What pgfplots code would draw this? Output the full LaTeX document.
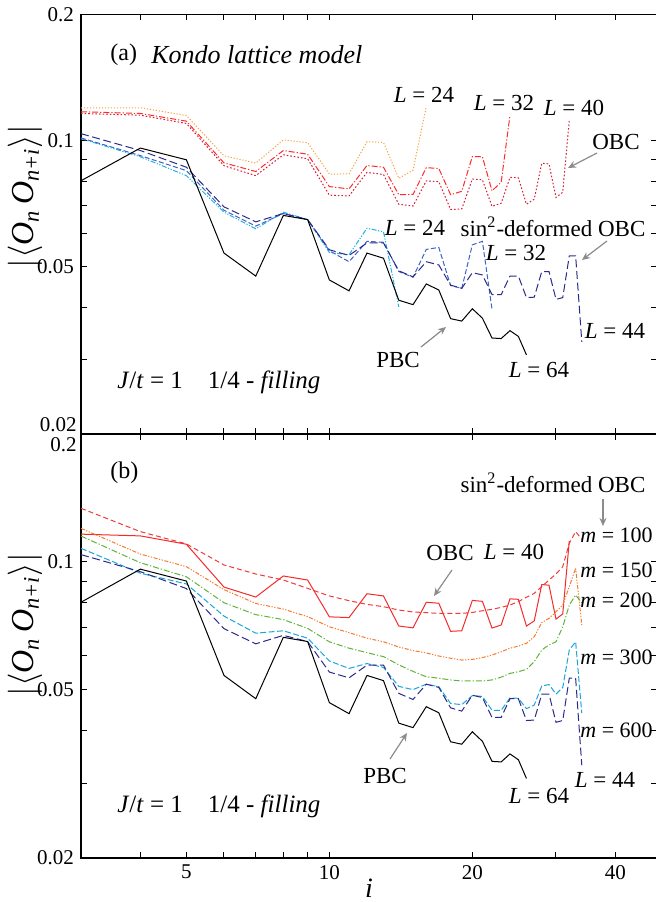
\documentclass[border=0pt]{standalone}
\usepackage{fontspec}
\setmainfont{Liberation Serif}
\usepackage{pgfplots}
\pgfplotsset{compat=1.18}
\usepackage{pgfplotstable}
\usetikzlibrary{arrows.meta}

\definecolor{cOrange}{HTML}{F6A23C}
\definecolor{cRedA}{HTML}{FF2A2A}
\definecolor{cCrimson}{HTML}{D81B36}
\definecolor{cCyanA}{HTML}{1EB4E6}
\definecolor{cBlue}{HTML}{3F63C4}
\definecolor{cNavy}{HTML}{2B2B8C}
\definecolor{cRedB}{HTML}{F22B2B}
\definecolor{cRedDash}{HTML}{F23A3A}
\definecolor{cOrangeB}{HTML}{F47A2E}
\definecolor{cGreen}{HTML}{62B33A}
\definecolor{cCyanB}{HTML}{1AA6DA}
\definecolor{cArrow}{HTML}{8C8C8C}

% PBC, L = 64 (same in both panels)
\pgfplotstableread{
i v
3 0.0802
4 0.0960
5 0.0900
6 0.0539
7 0.0475
8 0.0663
9 0.0648
10 0.0465
11 0.0438
12 0.0539
13 0.0524
14 0.0416
15 0.0406
16 0.0455
17 0.0440
18 0.0376
19 0.0371
20 0.0397
21 0.0377
22 0.0338
23 0.0337
24 0.0352
25 0.0341
26 0.0308
}\pbc

% OBC
\pgfplotstableread{
i v
3 0.1198
4 0.1198
5 0.1148
6 0.0920
7 0.0884
8 0.1004
9 0.0989
10 0.0832
11 0.0833
12 0.0994
13 0.0990
14 0.0813
15 0.0850
16 0.1205
}\obcA

\pgfplotstableread{
i v
3 0.1172
4 0.1161
5 0.1113
6 0.0885
7 0.0844
8 0.0947
9 0.0928
10 0.0777
11 0.0767
12 0.0872
13 0.0864
14 0.0743
15 0.0744
16 0.0862
17 0.0858
18 0.0743
19 0.0757
20 0.0916
21 0.0915
22 0.0759
23 0.0796
24 0.1148
}\obcB

\pgfplotstableread{
i v
3 0.1161
4 0.1150
5 0.1099
6 0.0871
7 0.0825
8 0.0925
9 0.0905
10 0.0741
11 0.0738
12 0.0840
13 0.0830
14 0.0705
15 0.0698
16 0.0802
17 0.0798
18 0.0685
19 0.0687
20 0.0810
21 0.0806
22 0.0697
23 0.0709
24 0.0817
25 0.0815
26 0.0705
27 0.0725
28 0.0883
29 0.0880
30 0.0732
31 0.0753
32 0.1119
}\obcC

% sin^2-deformed OBC
\pgfplotstableread{
i v
3 0.1011
4 0.0915
5 0.0825
6 0.0675
7 0.0616
8 0.0675
9 0.0648
10 0.0541
11 0.0534
12 0.0618
13 0.0606
14 0.0401
}\sinA

\pgfplotstableread{
i v
3 0.1015
4 0.0921
5 0.0848
6 0.0682
7 0.0625
8 0.0670
9 0.0648
10 0.0546
11 0.0514
12 0.0575
13 0.0572
14 0.0487
15 0.0472
16 0.0550
17 0.0556
18 0.0451
19 0.0444
20 0.0564
21 0.0575
22 0.0396
}\sinB

\pgfplotstableread{
i v
3 0.1039
4 0.0947
5 0.0864
6 0.0695
7 0.0640
8 0.0670
9 0.0648
10 0.0549
11 0.0532
12 0.0570
13 0.0570
14 0.0489
15 0.0473
16 0.0514
17 0.0505
18 0.0452
19 0.0444
20 0.0484
21 0.0478
22 0.0429
23 0.0429
24 0.0475
25 0.0475
26 0.0422
27 0.0423
28 0.0487
29 0.0487
30 0.0418
31 0.0422
32 0.0531
33 0.0531
34 0.0331
}\sinC

% L = 44, sin^2, kept states m
\pgfplotstableread{
i v
3 0.1336
4 0.1177
5 0.1101
6 0.0982
7 0.0935
8 0.0905
9 0.0865
10 0.0830
11 0.0809
12 0.0793
13 0.0783
14 0.0769
15 0.0761
16 0.0758
17 0.0755
18 0.0755
19 0.0755
20 0.0759
21 0.0766
22 0.0772
23 0.0780
24 0.0790
25 0.0805
26 0.0824
27 0.0842
28 0.0873
29 0.0905
30 0.0935
31 0.0973
32 0.1105
33 0.1177
34 0.1129
}\mA

\pgfplotstableread{
i v
3 0.1198
4 0.1042
5 0.0973
6 0.0859
7 0.0797
8 0.0773
9 0.0742
10 0.0702
11 0.0680
12 0.0660
13 0.0647
14 0.0629
15 0.0617
16 0.0609
17 0.0599
18 0.0592
19 0.0586
20 0.0588
21 0.0594
22 0.0602
23 0.0613
24 0.0625
25 0.0632
26 0.0642
27 0.0665
28 0.0718
29 0.0735
30 0.0762
31 0.0790
32 0.0873
33 0.0965
34 0.0709
}\mB

\pgfplotstableread{
i v
3 0.1149
4 0.0994
5 0.0921
6 0.0800
7 0.0750
8 0.0730
9 0.0696
10 0.0647
11 0.0625
12 0.0610
13 0.0597
14 0.0571
15 0.0551
16 0.0535
17 0.0531
18 0.0526
19 0.0523
20 0.0523
21 0.0523
22 0.0526
23 0.0534
24 0.0545
25 0.0550
26 0.0557
27 0.0581
28 0.0619
29 0.0636
30 0.0647
31 0.0702
32 0.0790
33 0.0834
34 0.0800
}\mC

\pgfplotstableread{
i v
3 0.1075
4 0.0939
5 0.0886
6 0.0744
7 0.0678
8 0.0687
9 0.0660
10 0.0583
11 0.0560
12 0.0575
13 0.0563
14 0.0508
15 0.0499
16 0.0514
17 0.0507
18 0.0463
19 0.0460
20 0.0483
21 0.0481
22 0.0446
23 0.0446
24 0.0477
25 0.0476
26 0.0450
27 0.0459
28 0.0509
29 0.0513
30 0.0487
31 0.0505
32 0.0619
33 0.0647
34 0.0439
}\mD

\tikzset{
  ann/.style={font=\fontsize{11.5}{13}\selectfont, inner sep=0pt},
  mlab/.style={font=\fontsize{11}{13}\selectfont, inner sep=0pt, anchor=west},
  tlab/.style={font=\fontsize{10.5}{12}\selectfont, inner sep=0pt, anchor=east},
  arr/.style={cArrow, line width=0.6pt, -{Stealth[length=4pt,width=3.5pt]}},
}
\newcommand\ylab{$\bigl|\bigl\langle$\textit{O\textsubscript{n}\,O\textsubscript{n+i}}$\bigr\rangle\bigr|$}

\begin{document}
\begin{tikzpicture}
\begin{scope}
\clip (0,0) rectangle (328pt,451pt);

% panel (a)
\begin{axis}[
  at={(40.5pt,234.25pt)}, anchor=south west,
  scale only axis, width=288.1pt, height=209.5pt,
  xmode=log, ymode=log,
  xmin=3, xmax=49, ymin=0.02, ymax=0.2,
  xtick={5,10,20,40}, xticklabels={},
  minor xtick={4,6,7,8,9,30},
  ytick={0.02,0.05,0.1,0.2}, yticklabels={,0.05,0.1,0.2},
  minor ytick={0.03,0.04,0.06,0.07,0.08,0.09},
  tick align=inside,
  major tick length=3pt, minor tick length=3pt,
  axis line style={line width=0.6pt},
  tick style={black, line width=0.5pt},
  tick label style={font=\fontsize{10.5}{12}\selectfont},
  ylabel={\ylab},
  ylabel style={font=\fontsize{16}{18}\selectfont, at={(axis description cs:-0.097,0.565)}, anchor=center},
]
\addplot[cOrange, line width=0.5pt, dash pattern=on 0.6pt off 0.9pt] table[x=i,y=v] {\obcA};
\addplot[cRedA, line width=0.5pt, dash pattern=on 3pt off 1pt on 0.6pt off 1pt] table[x=i,y=v] {\obcB};
\addplot[cCrimson, line width=0.5pt, dash pattern=on 0.8pt off 1pt] table[x=i,y=v] {\obcC};
\addplot[cCyanA, line width=0.5pt, dash pattern=on 2.5pt off 0.8pt on 0.6pt off 0.8pt on 0.6pt off 0.8pt] table[x=i,y=v] {\sinA};
\addplot[cBlue, line width=0.5pt, dash pattern=on 2.5pt off 1.2pt] table[x=i,y=v] {\sinB};
\addplot[cNavy, line width=0.5pt, dash pattern=on 4pt off 1.8pt] table[x=i,y=v] {\sinC};
\addplot[black, line width=0.5pt] table[x=i,y=v] {\pbc};
\end{axis}

% panel (b)
\begin{axis}[
  at={(40.5pt,22pt)}, anchor=south west,
  scale only axis, width=288.1pt, height=212pt,
  xmode=log, ymode=log,
  xmin=3, xmax=49, ymin=0.02, ymax=0.2,
  xtick={5,10,20,40}, xticklabels={5,10,20,40},
  minor xtick={4,6,7,8,9,30},
  ytick={0.02,0.05,0.1,0.2}, yticklabels={0.02,0.05,0.1,},
  minor ytick={0.03,0.04,0.06,0.07,0.08,0.09},
  tick align=inside,
  major tick length=3pt, minor tick length=3pt,
  axis line style={line width=0.6pt},
  tick style={black, line width=0.5pt},
  tick label style={font=\fontsize{10.5}{12}\selectfont},
  ylabel={\ylab},
  ylabel style={font=\fontsize{16}{18}\selectfont, at={(axis description cs:-0.097,0.55)}, anchor=center},
  xlabel={\textit{i}},
  xlabel style={font=\fontsize{14}{16}\selectfont, yshift=7pt},
]
\addplot[cRedDash, line width=0.5pt, dash pattern=on 2.5pt off 1.5pt] table[x=i,y=v] {\mA};
\addplot[cRedB, line width=0.5pt] table[x=i,y=v] {\obcC};
\addplot[cOrangeB, line width=0.5pt, dash pattern=on 2pt off 0.8pt on 0.6pt off 0.8pt on 0.6pt off 0.8pt] table[x=i,y=v] {\mB};
\addplot[cGreen, line width=0.5pt, dash pattern=on 3pt off 1pt on 0.6pt off 1pt] table[x=i,y=v] {\mC};
\addplot[cCyanB, line width=0.5pt, dash pattern=on 3pt off 1.2pt] table[x=i,y=v] {\mD};
\addplot[cNavy, line width=0.5pt, dash pattern=on 4pt off 1.8pt] table[x=i,y=v] {\sinC};
\addplot[black, line width=0.5pt] table[x=i,y=v] {\pbc};
\end{axis}

% annotations, placed in reference pixel units
\begin{scope}[x=0.5pt, y=-0.5pt, yshift=451pt]
  % tick labels at the joint of the panels
  \node[tlab] at (77,425) {0.02};
  \node[tlab] at (77,445) {0.2};
  % panel (a)
  \node[anchor=west, inner sep=0pt, font=\fontsize{12}{14}\selectfont] at (110,55) {(a)};
  \node[anchor=west, inner sep=0pt, font=\fontsize{13}{15}\selectfont] at (151,55) {\textit{Kondo lattice model}};
  \node[ann] at (424,95) {\textit{L} = 24};
  \node[ann] at (504,103) {\textit{L} = 32};
  \node[ann] at (574,108) {\textit{L} = 40};
  \node[ann] at (616,142) {OBC};
  \draw[arr] (597,153) -- (568,168);
  \node[ann] at (415,228) {\textit{L} = 24};
  \node[ann] at (553,227) {sin\textsuperscript{2}-deformed OBC};
  \node[ann] at (516,253) {\textit{L} = 32};
  \draw[arr] (607,241) -- (582,260);
  \node[ann] at (615,331) {\textit{L} = 44};
  \node[ann] at (398,360) {PBC};
  \draw[arr] (421,347) -- (446,327);
  \node[ann] at (539,370) {\textit{L} = 64};
  \node[anchor=west, inner sep=0pt, font=\fontsize{12.5}{14}\selectfont] at (117,382)
    {\textit{J}/\textit{t} = 1\hspace{1em}1/4 - \textit{filling}};
  % panel (b)
  \node[anchor=west, inner sep=0pt, font=\fontsize{12}{14}\selectfont] at (110,473) {(b)};
  \node[ann] at (553,483) {sin\textsuperscript{2}-deformed OBC};
  \draw[arr] (603,499) -- (603,526);
  \node[mlab] at (580,535) {\textit{m} = 100};
  \node[mlab] at (580,570) {\textit{m} = 150};
  \node[mlab] at (580,600) {\textit{m} = 200};
  \node[mlab] at (580,657) {\textit{m} = 300};
  \node[mlab] at (580,730) {\textit{m} = 600};
  \node[ann] at (450,553) {OBC};
  \node[ann] at (514,552) {\textit{L} = 40};
  \draw[arr] (452,570) -- (434,596);
  \node[ann] at (385,776) {PBC};
  \draw[arr] (390,759) -- (407,733);
  \node[ann] at (605,780) {\textit{L} = 44};
  \node[ann] at (539,796) {\textit{L} = 64};
  \node[anchor=west, inner sep=0pt, font=\fontsize{12.5}{14}\selectfont] at (117,806)
    {\textit{J}/\textit{t} = 1\hspace{1em}1/4 - \textit{filling}};
\end{scope}
\end{scope}
\pgfresetboundingbox
\useasboundingbox (0,0) rectangle (328pt,451pt);
\end{tikzpicture}
\end{document}
